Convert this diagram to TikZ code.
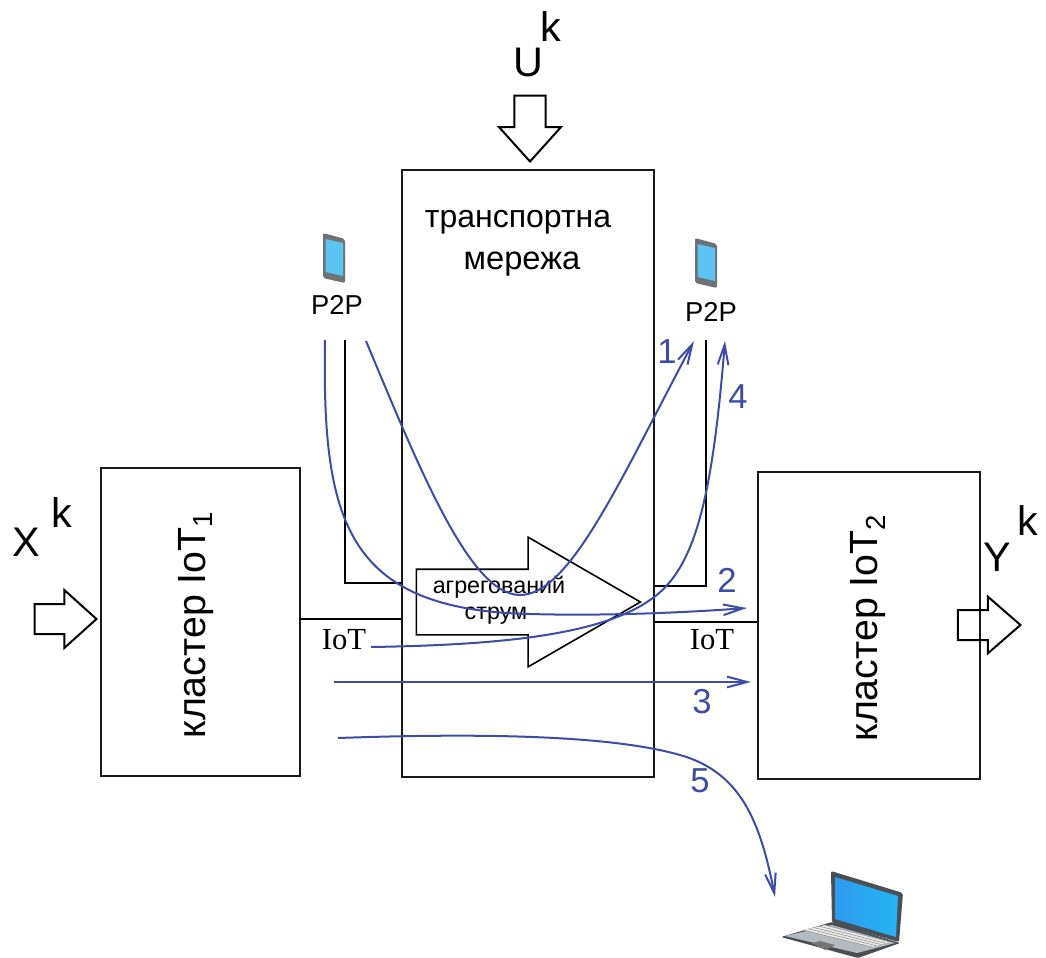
\documentclass[tikz,border=0pt]{standalone}
\usepackage{fontspec}
\setmainfont{Liberation Sans}
\newfontfamily\iotfont{Liberation Serif}
\usetikzlibrary{arrows.meta,shapes.arrows}
\definecolor{flowblue}{HTML}{3D4CA6}
\definecolor{screenblue}{HTML}{2F9BEF}
\definecolor{phoneblue}{HTML}{5CC4F2}
\definecolor{caseblack}{HTML}{4A4F55}
\definecolor{keygray}{HTML}{B4BABF}
\tikzset{
  box/.style={draw=black!90, line width=2pt, inner sep=0pt},
  bigarrow/.style={draw=black, line width=1.5pt, single arrow, inner xsep=0pt},
  link/.style={draw=black, line width=1.6pt},
  flow/.style={draw=flowblue, line width=1.5pt, -{Straight Barb[length=15pt,width=8pt]}},
  flowlabel/.style={text=flowblue, font=\fontsize{26}{30}\selectfont, inner sep=0pt},
  biglabel/.style={font=\fontsize{31}{36}\selectfont, inner sep=0pt},
  boxlabel/.style={font=\fontsize{29.5}{36}\selectfont, inner sep=0pt},
  smalllabel/.style={font=\fontsize{17.5}{20}\selectfont, inner sep=0pt},
  p2plabel/.style={font=\fontsize{20.5}{24}\selectfont, inner sep=0pt},
  iotlabel/.style={font=\iotfont\fontsize{23}{26}\selectfont, inner sep=0pt}
}
\begin{document}
\begin{tikzpicture}[x=.75pt, y=-.75pt]
    \useasboundingbox (0,0) rectangle (1046,957);

    % blocks
    \node[box, minimum width=149.25pt, minimum height=231pt] (cluster1) at (200.5,622) {};
    \node[box, minimum width=189pt, minimum height=455.25pt] (net) at (528,473.5) {};
    \node[box, minimum width=166.5pt, minimum height=230.25pt] (cluster2) at (869,625.5) {};

    % thick arrows
    \node[bigarrow, minimum height=49.5pt, inner xsep=10.9pt, inner ysep=0pt, minimum width=0pt, single arrow head extend=11.6pt, single arrow tip angle=84, shape border rotate=270, anchor=tip] (arrowu) at (530,163) {};
    \node[bigarrow, minimum height=46.5pt, inner ysep=10.5pt, minimum width=0pt, single arrow head extend=10.5pt, single arrow tip angle=84, anchor=tip] (arrowx) at (98,619) {};
    \node[bigarrow, minimum height=47pt, inner ysep=10.5pt, minimum width=0pt, single arrow head extend=10pt, single arrow tip angle=82, anchor=tip] (arrowy) at (1022,625) {};
    \node[bigarrow, line width=1.2pt, minimum height=168pt, inner ysep=24pt, minimum width=0pt, single arrow head extend=24pt, single arrow tip angle=60, anchor=tip] (stream) at (642,602) {};

    % text
    \node[biglabel] (labelu) at (528,62) {U};
    \node[biglabel] (labeluk) at (551,27) {k};
    \node[biglabel] (labelx) at (26,542) {X};
    \node[biglabel] (labelxk) at (62,513) {k};
    \node[biglabel] (labely) at (997,557) {Y};
    \node[biglabel] (labelyk) at (1028,521) {k};
    \node[boxlabel, font=\fontsize{24}{28}\selectfont] (netlabel) at (518,222) {транспортна};
    \node[boxlabel, font=\fontsize{24.5}{28}\selectfont] (netlabelb) at (522,264) {мережа};
    \node[boxlabel, rotate=90] (cluster1label) at (196,625) {кластер IoT\textsubscript{1}};
    \node[boxlabel, rotate=90] (cluster2label) at (868,628) {кластер IoT\textsubscript{2}};
    \node[smalllabel] (streamtop) at (499,587) {агрегований};
    \node[smalllabel] (streambottom) at (496,616) {струм};
    \node[p2plabel] (p2pleft) at (337,305) {P2P};
    \node[p2plabel] (p2pright) at (711,312) {P2P};
    \node[iotlabel] (iotleft) at (344,640) {IoT};
    \node[iotlabel] (iotright) at (712,640) {IoT};
    \node[flowlabel] (num1) at (667,352) {1};
    \node[flowlabel] (num2) at (727,580) {2};
    \node[flowlabel] (num3) at (702,702) {3};
    \node[flowlabel] (num4) at (738,397) {4};
    \node[flowlabel] (num5) at (700,781) {5};

    % free ends
    \coordinate (pl) at (345,340);
    \coordinate (pr) at (706,340);
    \coordinate (a1) at (366,341);
    \coordinate (b1) at (694,341);
    \coordinate (a2) at (325,340);
    \coordinate (b2) at (747,608);
    \coordinate (a3) at (334,682);
    \coordinate (b3) at (751,682);
    \coordinate (a4) at (371,647);
    \coordinate (b4) at (725,341);
    \coordinate (a5) at (338,738);
    \coordinate (b5) at (775,897);

    % black links
    \draw[link] (pl) |- (net.west |- 0,583);
    \draw[link] (pr) |- (net.east |- 0,586);
    \draw[link] (cluster1.east |- 0,619) -- (net.west |- 0,619);
    \draw[link] (net.east |- 0,622) -- (cluster2.west |- 0,622);

    % blue flows
    \draw[flow] (a1) .. controls (420,470) and (470,595) .. (520,595) .. controls (570,595) and (620,480) .. (b1);
    \draw[flow] (a2) .. controls (322,520) and (345,610) .. (530,614) .. controls (600,616) and (680,613) .. (b2);
    \draw[flow] (a3) -- (b3);
    \draw[flow] (a4) .. controls (500,645) and (600,635) .. (650,600) .. controls (695,570) and (712,500) .. (b4);
    \draw[flow] (a5) .. controls (480,733) and (610,735) .. (680,755) .. controls (740,772) and (760,820) .. (b5);

    % phones
    \foreach \x/\y in {323/233,695/238} {
        \fill[caseblack!80, rounded corners=1.5pt] (\x,\y) -- (\x+22,\y+6) -- (\x+22,\y+50) -- (\x,\y+45) -- cycle;
        \fill[phoneblue] (\x+2.5,\y+6) -- (\x+20,\y+10) -- (\x+20,\y+43) -- (\x+2.5,\y+39) -- cycle;
    }

    % laptop
    \fill[caseblack, rounded corners=1.5pt] (831,871) -- (903,893) -- (899,942) -- (832,923) -- cycle;
    \shade[left color=screenblue, right color=screenblue!75!cyan] (835,877) -- (898,896) -- (896,937) -- (835,919) -- cycle;
    \fill[caseblack, rounded corners=1pt] (781,937) -- (832,922) -- (900,943) -- (858,958) -- cycle;
    \fill[keygray] (785,936) -- (832,925) -- (895,943) -- (857,953) -- cycle;
    \fill[black!8] (803,930) -- (825,925) -- (890,942) -- (872,947) -- cycle;
    \foreach \t in {0,.25,...,1} {
        \draw[black!45, line width=.4pt] ({803+22*\t},{930-5*\t}) -- ({872+18*\t},{947-5*\t});
    }
    \fill[black!55] (812,943) -- (820,941) -- (835,945) -- (825,950) -- cycle;
\end{tikzpicture}
\end{document}
